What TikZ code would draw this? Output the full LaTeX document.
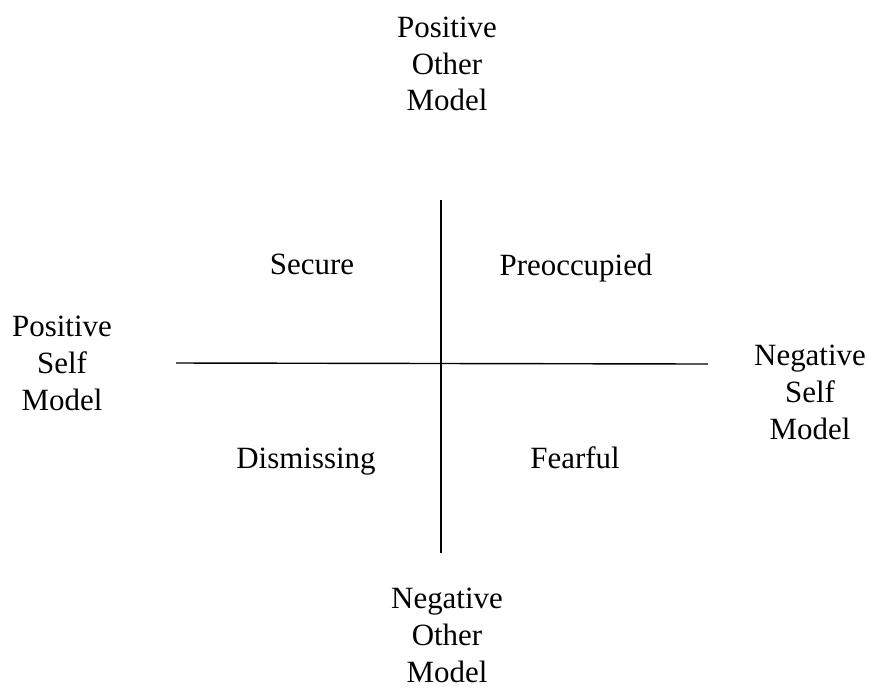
\documentclass[tikz,border=0pt]{standalone}
\usepackage{fontspec}
\setmainfont{Liberation Serif}
\usepackage{tikz}
\tikzset{
  axis/.style={draw=black, line width=0.8pt},
  pole/.style={align=center, font=\fontsize{17.6}{21}\selectfont, inner sep=0pt},
  quad/.style={anchor=base, font=\fontsize{17.6}{21}\selectfont, inner sep=0pt}
}

\begin{document}
\begin{tikzpicture}
\useasboundingbox (0,0) rectangle (17.68,-13.96);
% axes
\coordinate (top) at (8.82,-4.0);
\coordinate (bottom) at (8.82,-11.06);
\coordinate (left) at (3.52,-7.26);
\coordinate (right) at (14.16,-7.28);
\draw[axis] (top)--(bottom);
\draw[axis] (left)--(right);
% pole labels
\node[pole] (posother) at (8.94,-1.28) {Positive\\Other\\Model};
\node[pole] (negother) at (8.94,-12.70) {Negative\\Other\\Model};
\node[pole] (posself) at (1.24,-7.26) {Positive\\Self\\Model};
\node[pole] (negself) at (16.2,-7.84) {Negative\\Self\\Model};
% quadrants
\node[quad] (secure) at (6.24,-5.48) {Secure};
\node[quad] (preocc) at (11.52,-5.5) {Preoccupied};
\node[quad] (dismiss) at (6.12,-9.36) {Dismissing};
\node[quad] (fearful) at (11.5,-9.36) {Fearful};
\end{tikzpicture}
\end{document}
